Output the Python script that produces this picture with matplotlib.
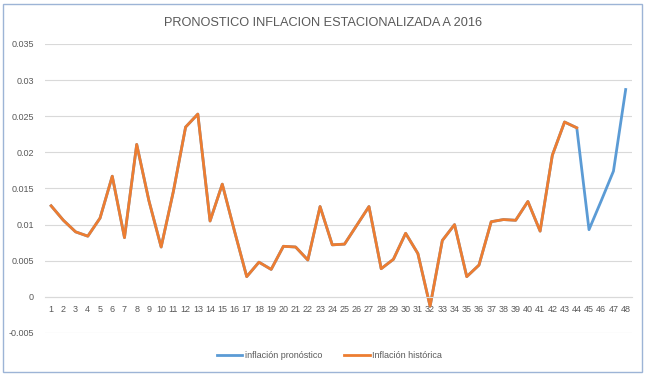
import numpy as np
import matplotlib.pyplot as plt
from matplotlib.patches import Rectangle

# datos
periodos = list(range(1, 49))
historica = [0.0126, 0.0106, 0.0090, 0.0084, 0.0109, 0.0167, 0.0082, 0.0211,
             0.0133, 0.0069, 0.0146, 0.0235, 0.0253, 0.0105, 0.0156, 0.0091,
             0.0028, 0.0048, 0.0038, 0.0070, 0.0069, 0.0051, 0.0125, 0.0072,
             0.0073, 0.0099, 0.0125, 0.0039, 0.0052, 0.0088, 0.0060, -0.0013,
             0.0078, 0.0100, 0.0028, 0.0044, 0.0104, 0.0107, 0.0106, 0.0132,
             0.0091, 0.0196, 0.0242, 0.0234]
pronostico = historica + [0.0093, 0.0133, 0.0174, 0.0287]
historica = historica + [np.nan] * 4

titulo = "PRONOSTICO INFLACION ESTACIONALIZADA A 2016"
yticks = [-0.005, 0, 0.005, 0.01, 0.015, 0.02, 0.025, 0.03, 0.035]
ylabels = ["-0.005", "0", "0.005", "0.01", "0.015", "0.02", "0.025", "0.03", "0.035"]

plt.rcParams['font.family'] = ['Liberation Sans', 'DejaVu Sans']
gris = '#595959'

fig = plt.figure(figsize=(6.46, 3.76), dpi=100)
ax = fig.add_axes([0.0697, 0.1144, 0.9083, 0.7686])

ax.plot(periodos, pronostico, color='#5B9BD5', lw=2.0, label='inflación pronóstico')
ax.plot(periodos, historica, color='#ED7D31', lw=2.0, label='Inflación histórica')

ax.set_xlim(0.5, 48.5)
ax.set_ylim(-0.005, 0.035)
ax.set_yticks(yticks)
ax.set_yticklabels(ylabels)
ax.set_xticks(periodos)
ax.set_xticklabels([str(p) for p in periodos])
ax.grid(axis='y', color='#D9D9D9', lw=0.8)
ax.set_axisbelow(True)
for s in ['top', 'right', 'left']:
    ax.spines[s].set_visible(False)
ax.spines['bottom'].set_position(('data', 0))
ax.spines['bottom'].set_color('#D9D9D9')
ax.tick_params(axis='both', length=0, labelsize=6.5, colors=gris)
ax.tick_params(axis='x', pad=6)
ax.tick_params(axis='y', pad=8)

fig.text(0.5, 0.94, titulo, ha='center', va='center', fontsize=9.2, color=gris)

fig.legend(loc='center', bbox_to_anchor=(0.51, 0.055), ncol=2, frameon=False,
           fontsize=6.5, labelcolor=gris, handlelength=2.8, columnspacing=2.5,
           handletextpad=0.3)

fig.patches.append(Rectangle((3 / 646, 4 / 376), 639 / 646, 368 / 376,
                             transform=fig.transFigure, fill=False,
                             edgecolor='#9DB4D6', lw=1))

fig.savefig('out.png', dpi=100)
